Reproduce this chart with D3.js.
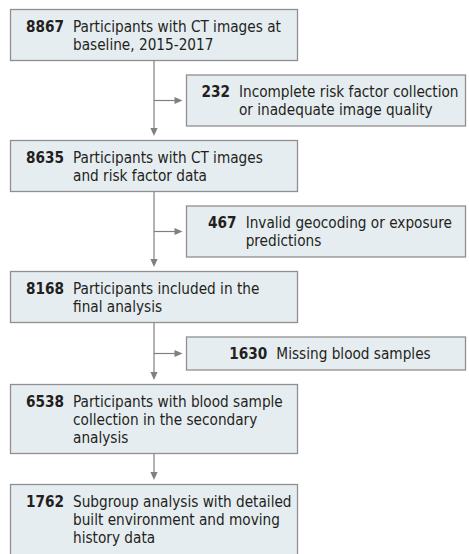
<!DOCTYPE html>
<html><head><script src="https://cdn.jsdelivr.net/npm/d3@7"></script>
<style>body{margin:0;background:#fff}</style></head>
<body>
<svg id="chart" width="469" height="554"></svg>
<script>
// ---- data ----
const mainCounts = [8867, 8635, 8168, 6538, 1762];
const mainLabels = [
  ["Participants with CT images at", "baseline, 2015-2017"],
  ["Participants with CT images", "and risk factor data"],
  ["Participants included in the", "final analysis"],
  ["Participants with blood sample", "collection in the secondary", "analysis"],
  ["Subgroup analysis with detailed", "built environment and moving", "history data"]
];
const exclCounts = [232, 467, 1630];
const exclLabels = [
  ["Incomplete risk factor collection", "or inadequate image quality"],
  ["Invalid geocoding or exposure", "predictions"],
  ["Missing blood samples"]
];

// ---- style / layout ----
const FONT = "'DejaVu Sans Condensed', 'DejaVu Sans', sans-serif";
const FS = 15.2, LH = 18, TOP_PAD = 22.5, BOT_PAD = 11.5;
const FILL = "#e6edf1", STROKE = "#8f8f8f", LINE = "#808080", TEXT = "#231f20";
const mainX0 = 10, mainX1 = 298, sideX0 = 186, sideX1 = 466;
const GAP = 13.5, LONG_GAP = 30;
const boxH = n => TOP_PAD + (n - 1) * LH + BOT_PAD;

const svg = d3.select("#chart");

// compute positions
const mains = [], sides = [];
let y = 9;
mainCounts.forEach((c, i) => {
  const h = boxH(mainLabels[i].length);
  mains.push({count: c, lines: mainLabels[i], y: y, h: h});
  y += h;
  if (i < exclCounts.length) {
    y += GAP;
    const sh = boxH(exclLabels[i].length);
    sides.push({count: exclCounts[i], lines: exclLabels[i], y: y, h: sh});
    y += sh + GAP;
  } else {
    y += LONG_GAP;
  }
});
mains[mains.length - 1].h += 10; // last box runs off the bottom

const xMid = (mainX0 + mainX1) / 2;

// arrows
const arrowHead = (g, x, y, dir) => {
  const L = 8, W = 3.6;
  let pts;
  if (dir === "down") pts = [[x, y], [x - W, y - L], [x + W, y - L]];
  else pts = [[x, y], [x - L, y - W], [x - L, y + W]];
  g.append("path").attr("d", d3.line()(pts) + "Z").attr("fill", LINE);
};
const ag = svg.append("g");
for (let i = 0; i < mains.length - 1; i++) {
  const y0 = mains[i].y + mains[i].h, y1 = mains[i + 1].y - 4;
  ag.append("line").attr("x1", xMid).attr("x2", xMid).attr("y1", y0).attr("y2", y1 - 6)
    .attr("stroke", LINE).attr("stroke-width", 1.2);
  arrowHead(ag, xMid, y1, "down");
  if (i < sides.length) {
    const sy = sides[i].y + sides[i].h / 2, sx = sideX0 - 3.5;
    ag.append("line").attr("x1", xMid).attr("x2", sx - 6).attr("y1", sy).attr("y2", sy)
      .attr("stroke", LINE).attr("stroke-width", 1.2);
    arrowHead(ag, sx, sy, "right");
  }
}

// boxes
function drawBox(d, x0, x1, centered) {
  const g = svg.append("g");
  g.append("rect").attr("x", x0 + 0.5).attr("y", d.y + 0.5).attr("width", x1 - x0 - 1).attr("height", d.h - 1)
    .attr("fill", FILL).attr("stroke", STROKE).attr("stroke-width", 1.3);
  const num = g.append("text").attr("y", d.y + TOP_PAD)
    .style("font-family", FONT).style("font-size", FS + "px").style("font-weight", "bold")
    .attr("fill", TEXT).text(d.count);
  const nw = num.node().getComputedTextLength();
  const txt = g.append("text").style("font-family", FONT).style("font-size", FS + "px").attr("fill", TEXT);
  d.lines.forEach((l, j) => {
    txt.append("tspan").attr("y", d.y + TOP_PAD + j * LH).text(l);
  });
  let tw = 0;
  txt.selectAll("tspan").each(function () { tw = Math.max(tw, this.getComputedTextLength()); });
  const gapNT = 9;
  let nx = centered ? (x0 + x1) / 2 - (nw + gapNT + tw) / 2 + 4 : x0 + 16;
  num.attr("x", nx);
  txt.selectAll("tspan").attr("x", nx + nw + gapNT);
}
mains.forEach(d => drawBox(d, mainX0, mainX1, false));
sides.forEach(d => drawBox(d, sideX0, sideX1, true));
</script></body></html>
